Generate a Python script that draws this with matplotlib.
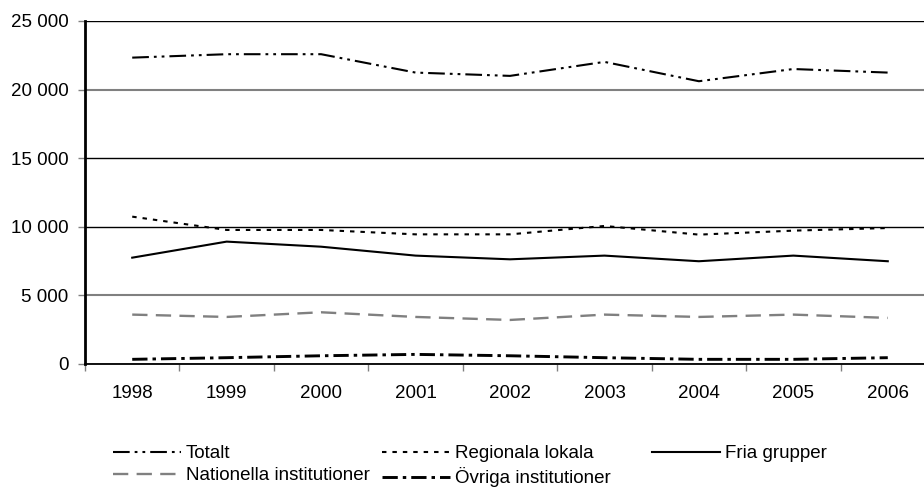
import matplotlib as mpl
mpl.use('Agg')
import matplotlib.pyplot as plt
from matplotlib.ticker import FuncFormatter, FixedLocator

plt.rcParams['font.family'] = ['Liberation Sans', 'DejaVu Sans']
plt.rcParams['font.size'] = 13.5
plt.rcParams['lines.scale_dashes'] = False

# data
years = ['1998', '1999', '2000', '2001', '2002', '2003', '2004', '2005', '2006']
totalt = [22330, 22580, 22580, 21240, 21000, 22020, 20610, 21500, 21240]
regionala = [10740, 9770, 9770, 9450, 9450, 10060, 9430, 9720, 9910]
fria = [7750, 8920, 8550, 7900, 7630, 7900, 7490, 7900, 7490]
nationella = [3600, 3430, 3770, 3430, 3210, 3600, 3430, 3600, 3360]
ovriga = [340, 460, 600, 700, 600, 460, 340, 340, 460]

fig = plt.figure(figsize=(9.24, 4.92), dpi=100)
ax = fig.add_axes([85/924, 1 - 364/492, 850/924, 343/492])

x = range(len(years))
l_tot, = ax.plot(x, totalt, color='k', lw=1.5,
                 linestyle=(0, (12, 3.6, 2, 3.6, 2, 3.6)))
l_reg, = ax.plot(x, regionala, color='k', lw=1.5,
                 linestyle=(0, (3.2, 4.3)))
l_fria, = ax.plot(x, fria, color='k', lw=1.5, linestyle='-')
l_nat, = ax.plot(x, nationella, color='#808080', lw=1.7,
                 linestyle=(0, (11, 6)))
l_ovr, = ax.plot(x, ovriga, color='k', lw=2.1,
                 linestyle=(0, (11, 3.6, 2.5, 3.6)))

ax.set_xlim(-0.5, len(years) - 0.5)
ax.set_ylim(0, 25000)

# category boundaries get the tick marks, labels sit in the middle
ax.xaxis.set_major_locator(FixedLocator([i - 0.5 for i in range(len(years) + 1)]))
ax.xaxis.set_minor_locator(FixedLocator(list(x)))
ax.set_xticklabels([], minor=False)
ax.set_xticklabels(years, minor=True)
ax.tick_params(axis='x', which='major', direction='out', length=5, width=1, color='#808080')
ax.tick_params(axis='x', which='minor', length=0, pad=15)

ax.set_yticks(range(0, 25001, 5000))
ax.yaxis.set_major_formatter(FuncFormatter(lambda v, p: '{:,.0f}'.format(v).replace(',', ' ')))
ax.tick_params(axis='y', direction='out', length=5, width=1, pad=7, color='#808080')

ax.grid(True, axis='y', color='k', linewidth=1)
for gl, val in zip(ax.yaxis.get_gridlines(), range(0, 25001, 5000)):
    if val in (5000, 20000):
        gl.set_color('#808080')
        gl.set_linewidth(1.5)
ax.set_axisbelow(True)

ax.spines['top'].set_visible(False)
ax.spines['right'].set_visible(False)
ax.spines['left'].set_linewidth(2)
ax.spines['bottom'].set_linewidth(1.3)

leg_kw = dict(loc='upper left', frameon=False, borderpad=0, borderaxespad=0,
              handlelength=3.6, handletextpad=0.3, labelspacing=0.28,
              fontsize=13.5)
top = 1 - 445/492
fig.legend([l_tot, l_nat], ['Totalt', 'Nationella institutioner'],
           bbox_to_anchor=(113/924, top), **leg_kw)
fig.legend([l_reg, l_ovr], ['Regionala lokala', 'Övriga institutioner'],
           bbox_to_anchor=(382/924, top), **leg_kw)
fig.legend([l_fria], ['Fria grupper'],
           bbox_to_anchor=(652/924, top), **leg_kw)

fig.savefig('out.png', dpi=100)
